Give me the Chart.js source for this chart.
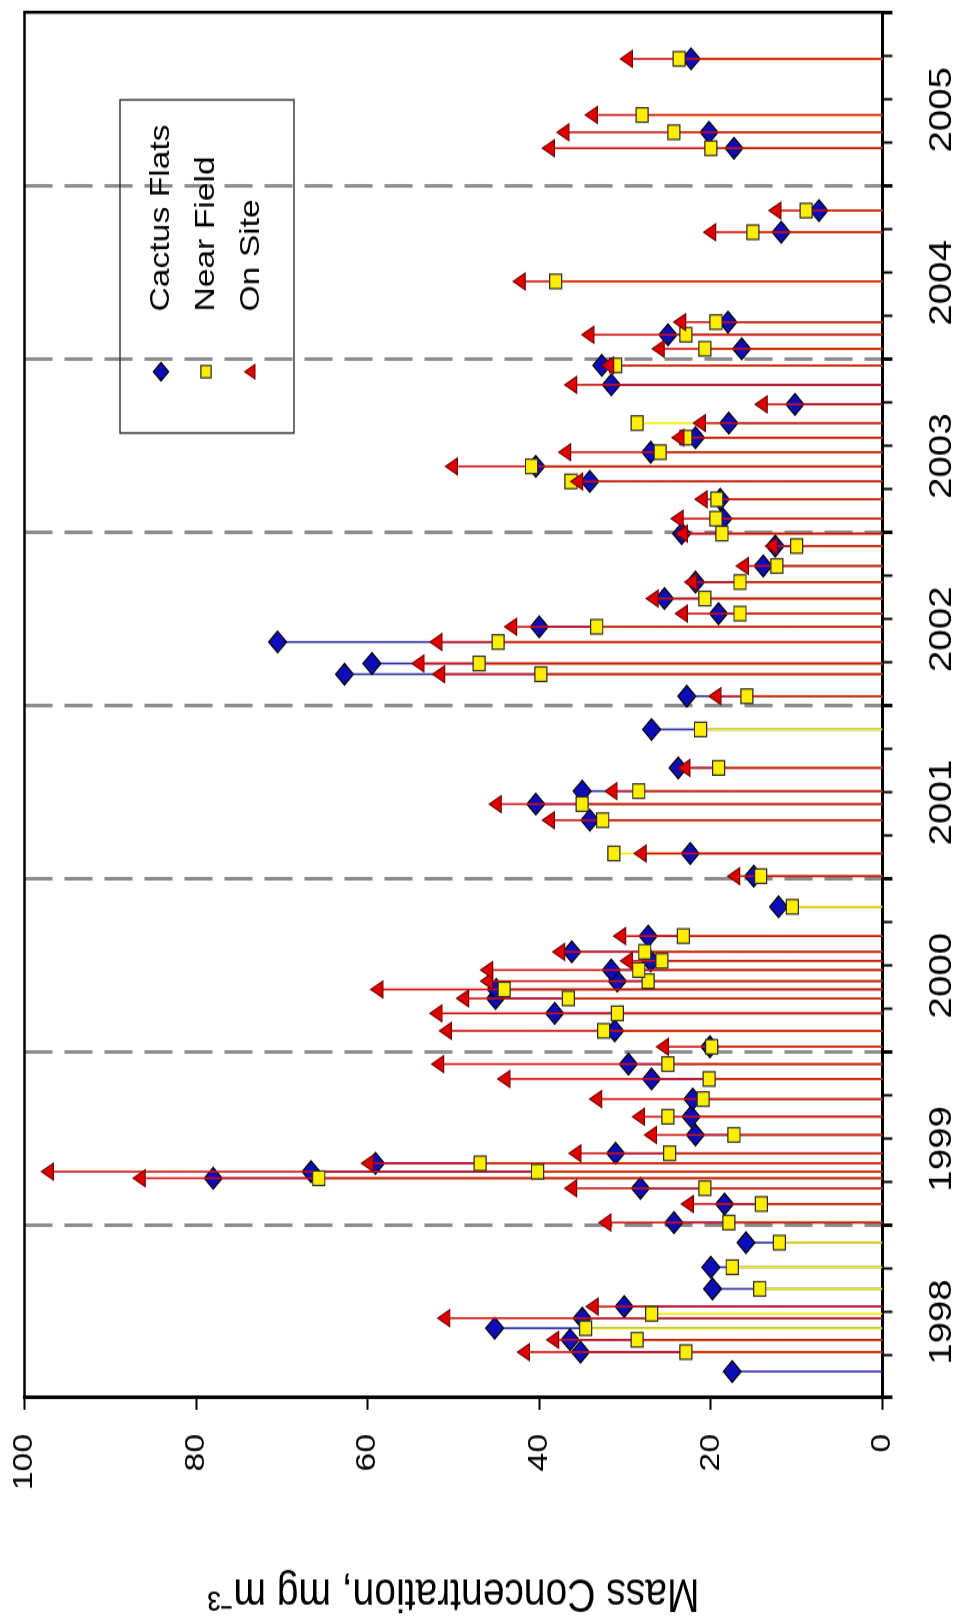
<!DOCTYPE html>
<html>
<head>
<meta charset="utf-8">
<title>Mass Concentration</title>
<script src="https://cdn.jsdelivr.net/npm/chart.js@4.4.1/dist/chart.umd.min.js"></script>
<style>
  html, body { margin: 0; padding: 0; background: #fff; overflow: hidden; }
  body { width: 961px; height: 1624px; position: relative; }
  /* chart is drawn lying down, then turned a quarter turn left */
  #turn {
    position: absolute; left: 0; top: 0;
    width: 1350px; height: 961px;
    transform-origin: 0 0;
    transform: translateY(1624px) rotate(-90deg) scaleX(1.20296);
  }
  #turn canvas { display: block; }
</style>
</head>
<body>
<div id="turn"><canvas id="mass-chart" width="1350" height="961"></canvas></div>
<script>
/* ══════════════════════════════════════
   Mass concentration by sampling date
   - Cactus Flats / Near Field / On Site
   - drop lines to zero for every sample
══════════════════════════════════════ */

// ── Sample dates (decimal year) ──
var sampleDates = [
  1998.152, 1998.264, 1998.335, 1998.402, 1998.460, 1998.485, 1998.527, 1998.629, 1998.754, 1998.896,
  1999.012, 1999.119, 1999.210, 1999.268, 1999.306, 1999.354, 1999.412, 1999.518, 1999.623, 1999.725,
  1999.841, 1999.927, 2000.027, 2000.119, 2000.220, 2000.306, 2000.358, 2000.406, 2000.470, 2000.523,
  2000.575, 2000.666, 2000.835, 2001.012, 2001.143, 2001.335, 2001.428, 2001.503, 2001.637, 2001.859,
  2002.051, 2002.178, 2002.240, 2002.364, 2002.452, 2002.528, 2002.615, 2002.710, 2002.803, 2002.918,
  2002.990, 2003.076, 2003.188, 2003.291, 2003.378, 2003.460, 2003.544, 2003.628, 2003.736, 2003.849,
  2003.961, 2004.057, 2004.138, 2004.211, 2004.446, 2004.730, 2004.855, 2005.215, 2005.307, 2005.407,
  2005.731
];

// ── Mass concentration, mg m-3 (null = no sample) ──
var cactusFlats = [
  17.5, 35.2, 36.4, 45.2, 35.0, null, 30.1, 19.8, 20.0, 15.9,
  24.3, 18.4, 28.2, 78.0, 66.6, 59.1, 31.1, 21.8, 22.3, 22.1,
  26.9, 29.6, 20.1, 31.2, 38.2, 45.1, 45.0, 30.9, 31.6, 27.0,
  36.2, 27.3, 12.1, 15.0, 22.4, 34.1, 40.4, 35.0, 23.8, 26.9,
  22.8, 62.7, 59.5, 70.5, 40.0, 19.1, 25.4, 21.8, 13.9, 12.5,
  23.4, 18.6, 18.9, 34.1, 40.4, 27.0, 21.8, 17.9, 10.2, 31.6,
  32.7, 16.4, 25.0, 18.0, null, 11.8, 7.4, 17.3, 20.2, null,
  22.3
];
var nearField = [
  null, 22.9, 28.6, 34.6, null, 26.9, null, 14.3, 17.5, 12.0,
  17.9, 14.1, 20.7, 65.7, 40.2, 46.9, 24.8, 17.3, 25.0, 20.9,
  20.2, 25.0, 19.9, 32.5, 30.9, 36.6, 44.1, 27.3, 28.4, 25.7,
  27.7, 23.2, 10.5, 14.2, 31.3, 32.6, 35.0, 28.4, 19.1, 21.2,
  15.8, 39.8, 47.0, 44.8, 33.3, 16.6, 20.7, 16.6, 12.3, 10.0,
  18.7, 19.4, 19.3, 36.3, 40.9, 25.9, 22.9, 28.6, null, null,
  31.1, 20.7, 22.9, 19.4, 38.1, 15.1, 8.9, 20.0, 24.3, 28.0,
  23.7
];
var onSite = [
  null, 41.6, 38.2, null, 50.9, null, 33.6, null, null, null,
  32.1, 22.5, 36.1, 86.4, 97.1, 59.8, 35.6, 26.8, 28.2, 33.2,
  43.9, 51.6, 25.4, 50.7, 51.8, 48.7, 58.7, 45.9, 45.9, 29.6,
  37.5, 30.4, null, 17.1, 28.0, 38.7, 44.9, 31.4, 22.9, null,
  19.3, 51.5, 53.9, 51.8, 43.1, 23.2, 26.6, 22.1, 16.1, 12.7,
  23.2, 23.7, 20.9, 35.4, 50.0, 36.8, 23.6, 21.1, 13.9, 36.1,
  31.8, 25.9, 34.1, 23.4, 42.1, 19.9, 12.3, 38.7, 37.0, 33.7,
  29.6
];

// ── Axis labels ──
var yearLabels  = ['1998', '1999', '2000', '2001', '2002', '2003', '2004', '2005'];
var seriesNames = ['Cactus Flats', 'Near Field', 'On Site'];

var FONT = "'Liberation Sans', Arial, sans-serif";

var STYLE = {
  cf : { fill: '#0c0cb8', edge: '#000000', stem: '#2a2aa8', shape: 'rectRot',  radius: 9 },
  nf : { fill: '#ffee00', edge: '#2a2a2a', stem: '#f4ec00', shape: 'rect',     radius: 8.5 },
  os : { fill: '#e00000', edge: '#7a0000', stem: '#d01010', shape: 'triangle', radius: 8 },
};

// ── Drop line from zero up to each value, broken by nulls ──
function buildStems(values) {
  var pts = [];
  sampleDates.forEach(function(d, i) {
    if (values[i] === null) return;
    pts.push({ x: d, y: 0 }, { x: d, y: values[i] }, { x: d, y: null });
  });
  return pts;
}

function buildPoints(values) {
  return sampleDates
    .map(function(d, i) { return { x: d, y: values[i] }; })
    .filter(function(p) { return p.y !== null; });
}

function stemSet(values, st, order) {
  return {
    type        : 'line',
    data        : buildStems(values),
    borderColor : st.stem,
    borderWidth : 1.6,
    pointRadius : 0,
    fill        : false,
    spanGaps    : false,
    tension     : 0,
    order       : order,
  };
}

function markSet(label, values, st, order) {
  return {
    label           : label,
    data            : buildPoints(values),
    pointStyle      : st.shape,
    pointRadius     : st.radius,
    backgroundColor : st.fill,
    borderColor     : st.edge,
    borderWidth     : 1.2,
    order           : order,
  };
}

function isYearLine(v) {
  return Math.abs(v - Math.round(v)) < 1e-6 && v > 1998.5 && v < 2005.5;
}

// ── Plot frame (top and right edges) ──
var framePlugin = {
  id: 'frame',
  beforeDatasetsDraw: function(chart) {
    var a = chart.chartArea, ctx = chart.ctx;
    ctx.save();
    ctx.strokeStyle = '#000';
    ctx.lineWidth = 2.5;
    ctx.beginPath();
    ctx.moveTo(a.left, a.top);
    ctx.lineTo(a.right, a.top);
    ctx.lineTo(a.right, a.bottom);
    ctx.stroke();
    ctx.restore();
  },
};

// ── Boxed legend inside the plot ──
var boxLegendPlugin = {
  id: 'boxLegend',
  afterDraw: function(chart) {
    var ctx = chart.ctx;
    var styles = [STYLE.cf, STYLE.nf, STYLE.os];
    var rows = [161, 206, 251.5];
    ctx.save();
    ctx.strokeStyle = '#222';
    ctx.lineWidth = 1.3;
    ctx.strokeRect(990, 120, 277, 174);
    ctx.font = '28px ' + FONT;
    ctx.textBaseline = 'middle';
    ctx.textAlign = 'left';
    styles.forEach(function(st, i) {
      ctx.fillStyle = st.fill;
      ctx.strokeStyle = st.edge;
      ctx.lineWidth = 1.2;
      Chart.helpers.drawPoint(ctx, { pointStyle: st.shape, radius: st.radius * 0.85, borderWidth: 1.2, rotation: 0 }, 1041, rows[i]);
      ctx.fillStyle = '#000';
      ctx.fillText(seriesNames[i], 1091, rows[i]);
    });
    ctx.restore();
  },
};

// ── Draw chart ──
function drawMassChart() {
  var ctx = document.getElementById('mass-chart').getContext('2d');

  new Chart(ctx, {
    type : 'scatter',
    data : {
      datasets : [
        stemSet(cactusFlats, STYLE.cf, 6),
        stemSet(nearField, STYLE.nf, 5),
        markSet(seriesNames[0], cactusFlats, STYLE.cf, 4),
        stemSet(onSite, STYLE.os, 3),
        markSet(seriesNames[1], nearField, STYLE.nf, 2),
        markSet(seriesNames[2], onSite, STYLE.os, 1),
      ],
    },
    options : {
      responsive       : false,
      animation        : false,
      devicePixelRatio : 1,
      events           : [],
      layout           : { padding: { top: 24.5, right: 9.7, bottom: 0, left: 0 } },
      plugins          : {
        legend  : { display: false },
        tooltip : { enabled: false },
      },
      scales : {
        x : {
          type     : 'linear',
          min      : 1998,
          max      : 2006,
          // fixed axis band; no extra room asked for end labels
          afterFit : function(scale) {
            scale.height = 78.6;
            scale.paddingLeft = 0;
            scale.paddingRight = 0;
          },
          ticks    : {
            stepSize    : 0.25,
            autoSkip    : false,
            maxRotation : 0,
            minRotation : 0,
            padding     : 31,
            labelOffset : -9,
            color       : '#000',
            font        : { family: FONT, size: 32 },
            callback    : function(value) {
              var k = value - 1998.5;
              if (Math.abs(k - Math.round(k)) < 1e-6) return yearLabels[Math.round(k)] || '';
              return '';
            },
          },
          grid : {
            drawOnChartArea : true,
            lineWidth       : 3,
            color           : function(c) {
              return c.tick && isYearLine(c.tick.value) ? '#8c8c8c' : 'rgba(0,0,0,0)';
            },
            tickLength : 10,
            tickColor  : '#000',
            tickWidth  : function(c) {
              var v = c.tick ? c.tick.value : 0;
              return Math.abs(v - Math.round(v)) < 1e-6 ? 3 : 2;
            },
          },
          border : { display: true, color: '#000', width: 3, dash: [28, 12] },
        },
        y : {
          min      : 0,
          max      : 100,
          afterFit : function(scale) {
            scale.width = 188;
            scale.paddingTop = 0;
            scale.paddingBottom = 0;
          },
          ticks    : {
            stepSize : 20,
            padding  : 20,
            color    : '#000',
            font     : { family: FONT, size: 28 },
          },
          grid   : { drawOnChartArea: false, tickLength: 10, tickColor: '#000', tickWidth: 2 },
          border : { color: '#000', width: 3 },
          title  : {
            display : true,
            text    : 'Mass Concentration, mg m\u207B\u00B3',
            color   : '#000',
            font    : { family: FONT, size: 39 },
            padding : { top: 3, bottom: 0 },
          },
        },
      },
    },
    plugins : [framePlugin, boxLegendPlugin],
  });
}

drawMassChart();
</script>
</body>
</html>
